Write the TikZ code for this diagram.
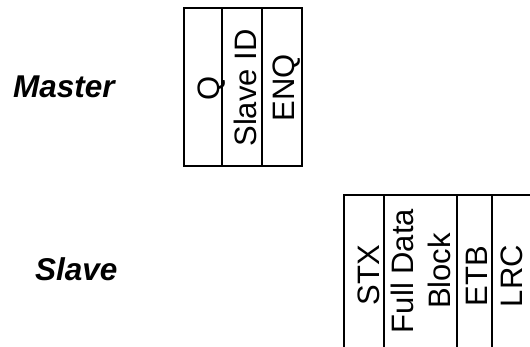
\documentclass[tikz,border=0pt]{standalone}
\usepackage{fontspec}
\setmainfont{Liberation Sans}
\begin{document}
\begin{tikzpicture}[x=1pt,y=-1pt,
  cell/.style={rotate=90,inner sep=0pt,font=\fontsize{31}{37}\selectfont},
  role/.style={inner sep=0pt,font=\fontsize{31.5}{37}\selectfont\bfseries\itshape,anchor=base west},
  frame/.style={line width=1.4pt,draw=black}]
\useasboundingbox (0,0) rectangle (530,347);
% labels
\node[role] (master) at (13,98) {Master};
\node[role] (slave) at (35,280) {Slave};
% master frame
\draw[frame] (184,8) rectangle (302,166);
\draw[frame] (222,8) -- (222,166);
\draw[frame] (262,8) -- (262,166);
\node[cell,anchor=base] (q) at (219,88) {Q};
\node[cell,anchor=base] (sid) at (256,88) {Slave ID};
\node[cell,anchor=base] (enq) at (294,88) {ENQ};
% slave frame (cut off at the page edges)
\begin{scope}
\clip (0,0) rectangle (530,347);
\draw[frame] (344,360) -- (344,195) -- (540,195);
\draw[frame] (384,195) -- (384,360);
\draw[frame] (457,195) -- (457,360);
\draw[frame] (492,195) -- (492,360);
\node[cell,anchor=base] (stx) at (379,275) {STX};
\node[cell,anchor=center,align=center] (fdb) at (420.5,271) {Full Data\\Block};
\node[cell,anchor=base] (etb) at (487,276) {ETB};
\node[cell,anchor=base] (lrc) at (522,276) {LRC};
\end{scope}
\end{tikzpicture}
\end{document}
